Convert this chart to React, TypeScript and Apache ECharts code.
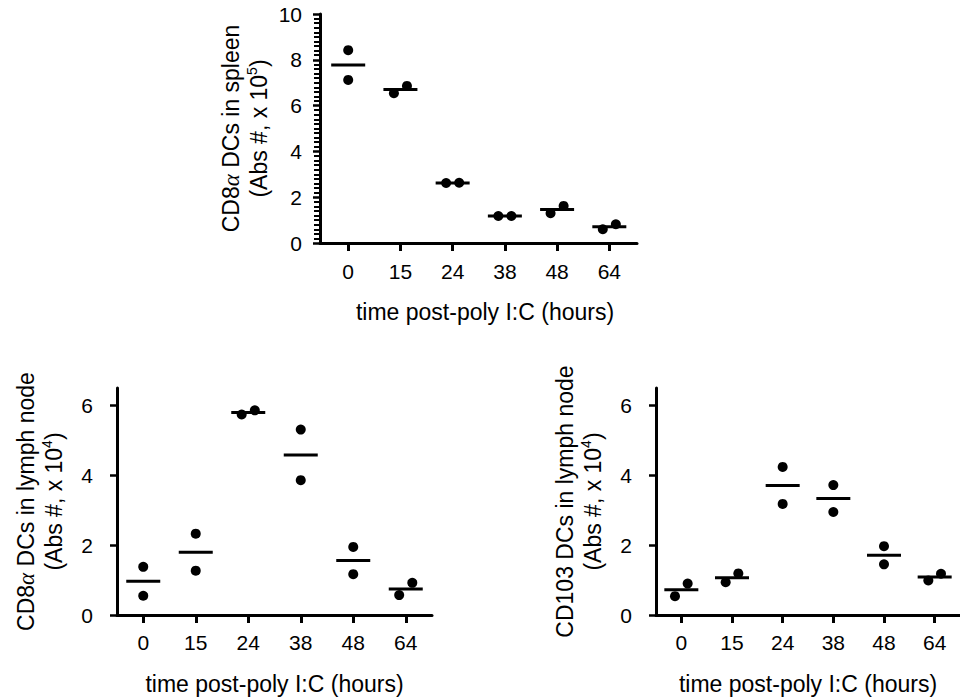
import React, { useEffect, useRef } from "react";
import * as echarts from "echarts";

// ---- data ----
const hours = ["0", "15", "24", "38", "48", "64"];
const spleenRep1 = [8.42, 6.54, 2.62, 1.18, 1.3, 0.6];
const spleenRep2 = [7.12, 6.86, 2.63, 1.18, 1.62, 0.82];
const lnCD8Rep1 = [1.38, 2.33, 5.74, 5.31, 1.95, 0.57];
const lnCD8Rep2 = [0.55, 1.27, 5.86, 3.86, 1.17, 0.92];
const lnCD103Rep1 = [0.54, 0.94, 4.24, 3.72, 1.97, 0.99];
const lnCD103Rep2 = [0.9, 1.19, 3.18, 2.95, 1.45, 1.18];
const spleenYTicks = [0, 2, 4, 6, 8, 10];
const lnYTicks = [0, 2, 4, 6];

const FONT = "'Liberation Sans', Arial, sans-serif";
const hourIdx = hours.map((_, i) => i);
const SPLEEN_XMIN = -0.54;

// jitter rule: pairs whose dots would overlap are nudged apart (lower value on the left)
function dots(a: number[], b: number[], pxPerUnit: number) {
  const out: number[][] = [];
  a.forEach((v, i) => {
    const lo = Math.min(v, b[i]);
    const hi = Math.max(v, b[i]);
    if ((hi - lo) * pxPerUnit < 15) {
      out.push([i - 0.125, lo], [i + 0.125, hi]);
    } else {
      out.push([i, lo], [i, hi]);
    }
  });
  return out;
}
function means(a: number[], b: number[]) {
  return a.map((v, i) => [i, (v + b[i]) / 2]);
}

const nameRich = {
  a: { fontStyle: "italic", fontFamily: "'Liberation Serif', serif", fontSize: 23, lineHeight: 28 },
  sup: { fontSize: 14, lineHeight: 14, verticalAlign: "top", fontFamily: FONT },
};

function xAxisFor(gridIndex: number, min: number, max: number, labelMargin: number, nameShift: number) {
  return {
    type: "value",
    gridIndex,
    min,
    max,
    name: "time post-poly I:C (hours)",
    nameLocation: "middle",
    nameGap: 57,
    nameTextStyle: { fontSize: 23, fontFamily: FONT, color: "#000", padding: [0, 0, 0, nameShift] },
    axisLine: { show: true, onZero: false, lineStyle: { color: "#000", width: 3 } },
    axisTick: { show: true, customValues: hourIdx, length: 8, lineStyle: { color: "#000", width: 3 } },
    axisLabel: {
      customValues: hourIdx,
      formatter: (v: number) => hours[Math.round(v)],
      fontSize: 21,
      fontFamily: FONT,
      color: "#000",
      margin: labelMargin,
    },
    splitLine: { show: false },
  };
}

function yAxisFor(gridIndex: number, max: number, ticks: number[], name: string, nameGap: number, labelMargin: number, tickLen: number, minor: boolean) {
  return {
    type: "value",
    gridIndex,
    position: "left",
    min: 0,
    max,
    interval: 2,
    name,
    nameLocation: "middle",
    nameRotate: 90,
    nameGap,
    nameTextStyle: { fontSize: 23, fontFamily: FONT, color: "#000", lineHeight: 28, rich: nameRich },
    axisLine: { show: true, onZero: false, lineStyle: { color: "#000", width: 3 } },
    axisTick: { show: true, customValues: ticks, length: tickLen, lineStyle: { color: "#000", width: 2.5 } },
    minorTick: minor ? { show: true, splitNumber: 10, length: 6, lineStyle: { color: "#000", width: 2 } } : { show: false },
    axisLabel: {
      customValues: ticks,
      fontSize: 21,
      fontFamily: FONT,
      color: "#000",
      margin: labelMargin,
    },
    splitLine: { show: false },
  };
}

function seriesFor(k: number, a: number[], b: number[], pxPerUnit: number) {
  return [
    {
      type: "scatter",
      xAxisIndex: k,
      yAxisIndex: k,
      data: means(a, b),
      symbol: "rect",
      symbolSize: [34, 3],
      itemStyle: { color: "#000", opacity: 1 },
      silent: true,
    },
    {
      type: "scatter",
      xAxisIndex: k,
      yAxisIndex: k,
      data: dots(a, b, pxPerUnit),
      symbol: "circle",
      symbolSize: 10,
      itemStyle: { color: "#000", opacity: 1 },
      silent: true,
    },
  ];
}

export default function App() {
  const ref = useRef<HTMLDivElement>(null);
  useEffect(() => {
    if (!ref.current) return;
    const chart = echarts.init(ref.current, null, { renderer: "svg" });
    const grids = [
      { left: 320, top: 14, width: 317, height: 229 },
      { left: 117, top: 388, width: 315, height: 227 },
      { left: 656, top: 388, width: 315, height: 227 },
    ];
    chart.setOption({
      animation: false,
      backgroundColor: "#fff",
      grid: grids,
      xAxis: [xAxisFor(0, SPLEEN_XMIN, 5.53, 18, 13), xAxisFor(1, -0.5, 5.5, 17, 0), xAxisFor(2, -0.5, 5.5, 17, 0)],
      yAxis: [
        yAxisFor(0, 10, spleenYTicks, "CD8{a|α} DCs in spleen\n(Abs #, x 10{sup|5})", 47, 18, 7, true),
        yAxisFor(1, 6.5, lnYTicks, "CD8{a|α} DCs in lymph node\n(Abs #, x 10{sup|4})", 49, 24, 7, false),
        yAxisFor(2, 6.5, lnYTicks, "CD103 DCs in lymph node\n(Abs #, x 10{sup|4})", 49, 24, 7, false),
      ],
      series: [
        ...seriesFor(0, spleenRep1, spleenRep2, 229 / 10),
        ...seriesFor(1, lnCD8Rep1, lnCD8Rep2, 227 / 6.5),
        ...seriesFor(2, lnCD103Rep1, lnCD103Rep2, 227 / 6.5),
      ],
    });
    return () => chart.dispose();
  }, []);
  return <div ref={ref} style={{ position: "fixed", left: 0, top: 0, width: 960, height: 698 }} />;
}
